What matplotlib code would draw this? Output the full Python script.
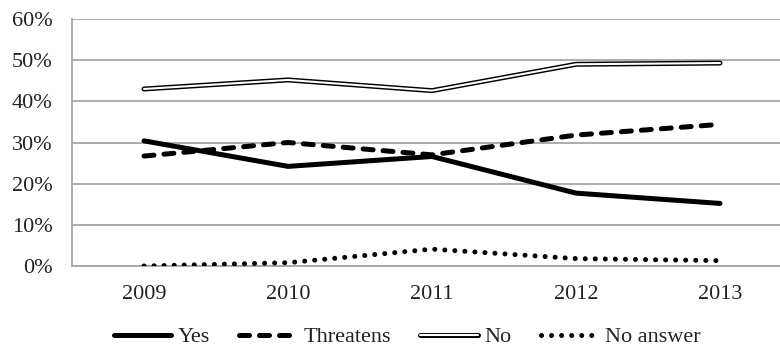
import matplotlib
matplotlib.use("Agg")
import matplotlib.pyplot as plt
from matplotlib.ticker import PercentFormatter

plt.rcParams['font.family'] = ['Liberation Serif', 'DejaVu Serif']

years = ['2009', '2010', '2011', '2012', '2013']
yes = [30.4, 24.2, 26.6, 17.7, 15.2]
threatens = [26.7, 30.0, 27.0, 31.8, 34.4]
no = [43.0, 45.2, 42.6, 49.0, 49.3]
no_answer = [0.0, 0.8, 4.1, 1.8, 1.3]

fig = plt.figure(figsize=(7.8, 3.49), dpi=100)
ax = fig.add_axes([72 / 780, 1 - 266 / 349, 1 - 72 / 780, (266 - 19) / 349])

x = range(len(years))
grid_c = '#a6a6a6'

l_yes, = ax.plot(x, yes, color='black', lw=3.6, solid_capstyle='round',
                 solid_joinstyle='round', zorder=4)
l_thr, = ax.plot(x, threatens, color='black', lw=3.6, linestyle=(0, (2, 2)),
                 dash_capstyle='round', zorder=4)
# double line: thick black underneath, thin white on top
l_no_o, = ax.plot(x, no, color='black', lw=3.6, solid_capstyle='round',
                  solid_joinstyle='miter', zorder=3)
l_no_i, = ax.plot(x, no, color='white', lw=1.5, solid_capstyle='round',
                  solid_joinstyle='miter', zorder=3)
l_na, = ax.plot(x, no_answer, color='black', lw=3.6, linestyle=(0, (0.01, 2.0)),
                dash_capstyle='round', zorder=4)

ax.set_ylim(0, 60)
ax.set_xlim(-0.5, -0.5 + 708 / 144)
ax.set_yticks(range(0, 61, 10))
ax.yaxis.set_major_formatter(PercentFormatter(decimals=0))
ax.set_xticks(list(x))
ax.set_xticklabels(years)
ax.grid(axis='y', color=grid_c, lw=1.3)
ax.set_axisbelow(True)
for s in ['top', 'right']:
    ax.spines[s].set_visible(False)
for s in ['left', 'bottom']:
    ax.spines[s].set_color(grid_c)
    ax.spines[s].set_linewidth(1.3)
ax.tick_params(length=0, labelsize=16, colors='#222222')
ax.tick_params(axis='y', pad=14)
ax.tick_params(axis='x', pad=14)

fig.legend([l_yes, l_thr, (l_no_o, l_no_i), l_na],
           ['Yes', 'Threatens', 'No', 'No answer'],
           loc='center', bbox_to_anchor=(0.522, 0.034), ncol=4, frameon=False,
           fontsize=16, handlelength=2.6, handletextpad=0.3, columnspacing=1.3,
           labelcolor='#222222')

fig.savefig('out.png', dpi=100)
